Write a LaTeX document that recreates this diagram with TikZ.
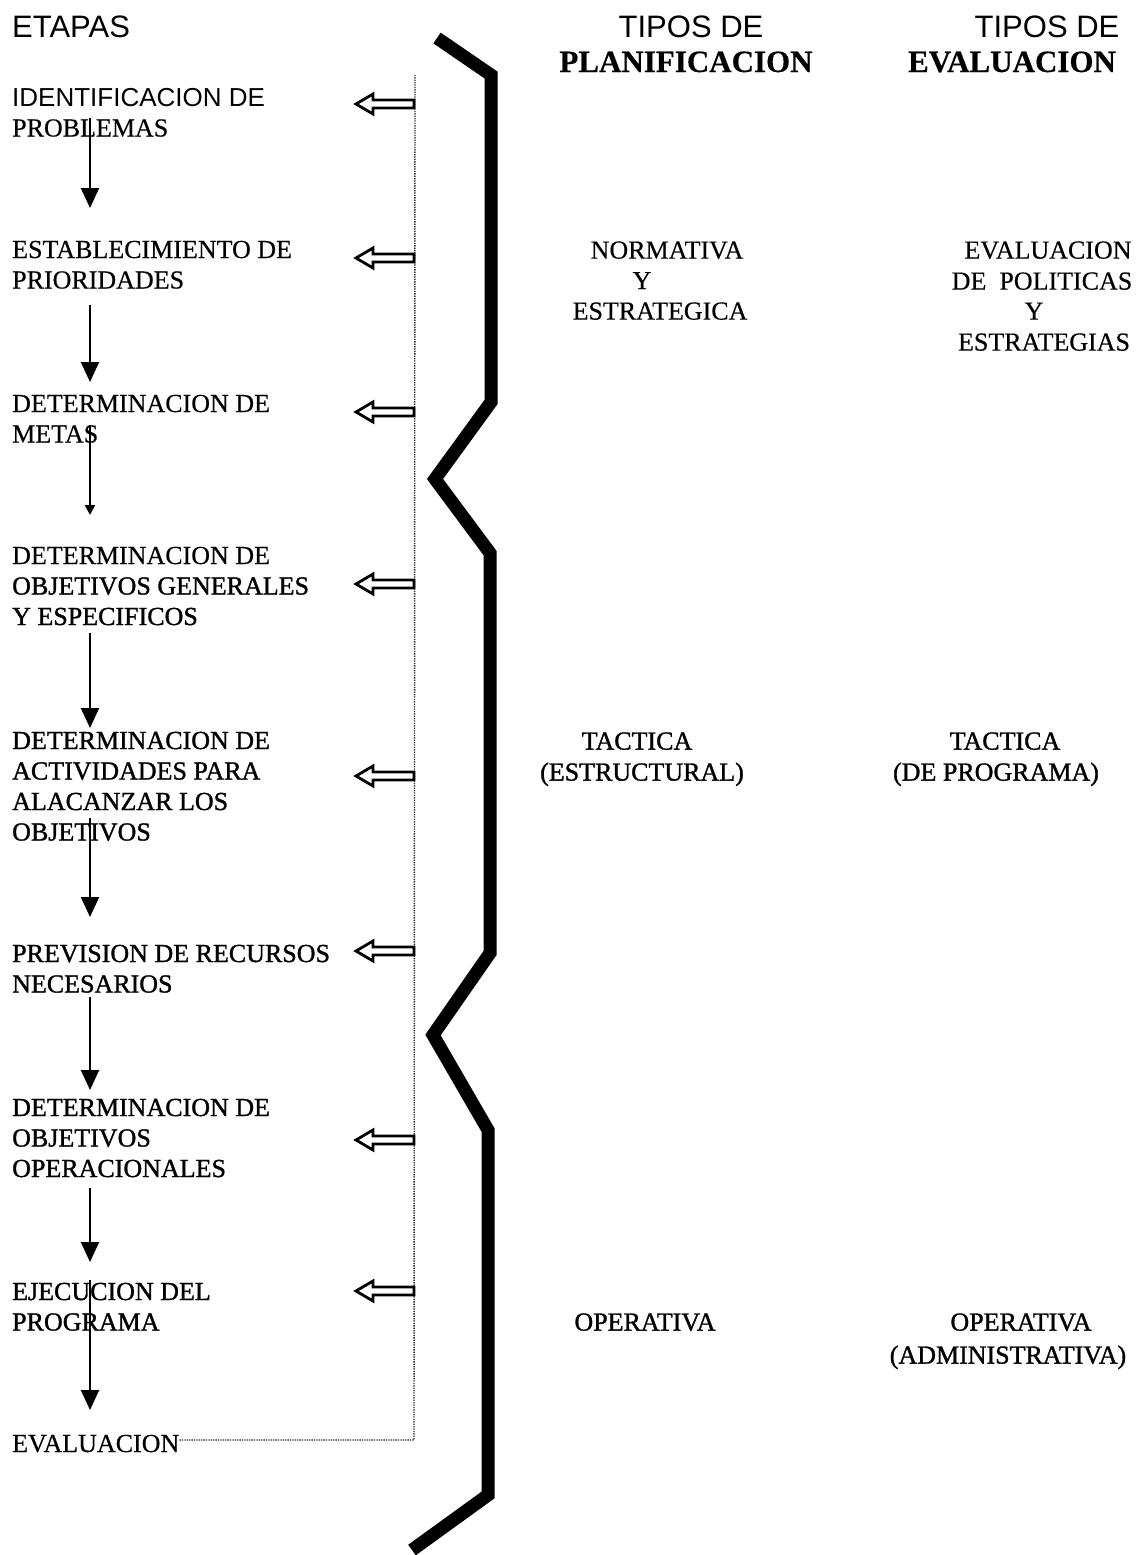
\documentclass[tikz,border=0pt]{standalone}
\usepackage{fontspec}
\setmainfont[FakeBold=0.4]{Liberation Serif}
\newfontfamily\darkf[FakeBold=1.2]{Liberation Serif}
\newfontfamily\arialf{Liberation Sans}
\usetikzlibrary{arrows.meta}
\newcommand\mlines[1]{\vtop{\baselineskip=30.5pt\lineskip=0pt\lineskiplimit=-30pt\halign{##\hfil\cr#1\crcr}}}
\tikzset{
  stage/.style={anchor=base west, inner sep=0pt, font=\fontsize{26}{30.5}\selectfont},
  rtext/.style={anchor=base, inner sep=0pt, font=\fontsize{26}{30.5}\selectfont},
  darktext/.style={font=\fontsize{26}{30.5}\selectfont\darkf},
  headsans/.style={anchor=base, inner sep=0pt, font=\fontsize{31}{36}\selectfont\arialf},
  headserif/.style={anchor=base, inner sep=0pt, font=\fontsize{31}{36}\selectfont\bfseries},
  down/.style={line width=2pt, -{Triangle[length=20pt,width=18pt]}},
  downsmall/.style={line width=2pt, -{Triangle[length=10pt,width=10pt]}},
  hollow/.style={line width=2.8pt, line join=miter, fill=white},
  zig/.style={line width=13pt, line join=miter, line cap=butt},
  dotline/.style={line width=1.4pt, black!85, dash pattern=on 1.3pt off 1.1pt}
}
\begin{document}
\begin{tikzpicture}[x=1pt,y=-1pt]
\useasboundingbox (0,0) rectangle (1144,1555);

% headers
\node[headsans, anchor=base west] (etapas) at (12,38) {ETAPAS};
\node[headsans] (tp1) at (691,38) {TIPOS DE};
\node[headserif] (tp2) at (686,72) {PLANIFICACION};
\node[headsans] (te1) at (1047,38) {TIPOS DE};
\node[headserif] (te2) at (1012,72) {EVALUACION};

% stages
\node[stage] (s1) at (12,106) {\mlines{{\arialf IDENTIFICACION DE}\cr PROBLEMAS}};
\node[stage] (s2) at (12,258) {\mlines{ESTABLECIMIENTO DE\cr PRIORIDADES}};
\node[stage] (s3) at (12,412) {\mlines{DETERMINACION DE\cr METAS}};
\node[stage] (s4) at (12,564) {\mlines{DETERMINACION DE\cr {\darkf OBJETIVOS GENERALES}\cr {\darkf Y ESPECIFICOS}}};
\node[stage, darktext] (s5) at (12,749) {\mlines{DETERMINACION DE\cr ACTIVIDADES PARA\cr ALACANZAR LOS\cr OBJETIVOS}};
\node[stage, darktext] (s6) at (12,962) {\mlines{PREVISION DE RECURSOS\cr NECESARIOS}};
\node[stage, darktext] (s7) at (12,1116) {\mlines{DETERMINACION DE\cr OBJETIVOS\cr OPERACIONALES}};
\node[stage, darktext] (s8) at (12,1300) {\mlines{EJECUCION DEL\cr PROGRAMA}};
\node[stage] (s9) at (12,1452) {EVALUACION};

% down arrows
\foreach \i/\a/\b in {1/118/208,2/305/382,4/633/728,5/818/917,6/997/1090,7/1188/1262,8/1280/1410}{
  \coordinate (d\i s) at (90,\a);
  \coordinate (d\i e) at (90,\b);
  \draw[down] (d\i s) -- (d\i e);
}
\coordinate (d3s) at (90,425);
\coordinate (d3e) at (90,515);
\draw[downsmall] (d3s) -- (d3e);

% dotted line
\coordinate (dtop) at (415,75);
\coordinate (dcorner) at (414,1440);
\draw[dotline] (s9.east |- dcorner) -- (dcorner) -- (dtop);

% hollow arrows
\foreach \y in {104,258,412,584,776,951,1140,1291}{
  \draw[hollow] (356,\y) -- (373,\y-10) -- (373,\y-4) -- (414,\y-4) -- (414,\y+4) -- (373,\y+4) -- (373,\y+10) -- cycle;
}

% zigzag bar
\draw[zig] (437,38) -- (491,75) -- (491,402) -- (435,479) -- (490,553) -- (490,953) -- (433,1035) -- (488,1130) -- (488,1495) -- (412,1550);

% planning types
\node[rtext] (p1a) at (667,258.6) {NORMATIVA};
\node[rtext] (p1b) at (642,289.1) {Y};
\node[rtext] (p1c) at (660,319.6) {ESTRATEGICA};
\node[rtext, darktext] (p2a) at (637,749.6) {TACTICA};
\node[rtext, darktext] (p2b) at (642,780.6) {(ESTRUCTURAL)};
\node[rtext, darktext] (p3a) at (645,1330.6) {OPERATIVA};

% evaluation types
\node[rtext] (e1a) at (1048,258.6) {EVALUACION};
\node[rtext] (e1b) at (1042,289.6) {DE\ \ POLITICAS};
\node[rtext] (e1c) at (1034,319.6) {Y};
\node[rtext] (e1d) at (1044,350.6) {ESTRATEGIAS};
\node[rtext, darktext] (e2a) at (1005,749.6) {TACTICA};
\node[rtext, darktext] (e2b) at (996,780.6) {(DE PROGRAMA)};
\node[rtext, darktext] (e3a) at (1021,1330.6) {OPERATIVA};
\node[rtext, darktext] (e3b) at (1008,1363.6) {(ADMINISTRATIVA)};
\end{tikzpicture}
\end{document}
